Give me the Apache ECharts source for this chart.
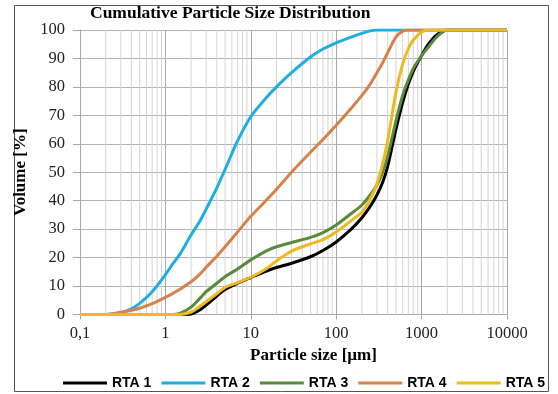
<!DOCTYPE html>
<html>
<head>
<meta charset="utf-8">
<script src="https://cdn.jsdelivr.net/npm/echarts@6/dist/echarts.min.js"></script>
<style>
  html, body { margin: 0; padding: 0; background: #fff; }
  #chart { width: 558px; height: 394px; }
</style>
</head>
<body>
<div id="chart"></div>
<script>
// particle sizes (µm) shared by every curve
const sizes = [0.1, 0.2, 0.3, 0.4, 0.5, 0.7, 1, 1.2, 1.5, 2, 2.5, 3, 4, 5, 7, 10, 15, 20, 30, 50, 70, 100,
  150, 200, 250, 300, 350, 400, 500, 600, 700, 800, 1000, 1200, 1500, 2000, 3000, 10000];

// cumulative volume (%)
const rta1 = [0, 0, 0, 0, 0, 0, 0, 0, 0, 0.2, 1.5, 3.3, 6.5, 8.8, 11, 13, 15.2, 16.5, 18, 20.3, 22.5, 25.5,
  30, 34, 38, 42, 46.5, 52, 65, 74.5, 81, 85.5, 91, 95, 98.3, 100, 100, 100];
const rta2 = [0, 0, 0.6, 2, 3.9, 8, 14, 17.5, 21.5, 28, 32.5, 37, 44.5, 51, 61, 69.5, 76, 80, 85, 90.5, 93.3, 95.5,
  97.5, 98.8, 99.7, 100, 100, 100, 100, 100, 100, 100, 100, 100, 100, 100, 100, 100];
const rta3 = [0, 0, 0, 0, 0, 0, 0, 0, 0.5, 2.6, 5.5, 8, 11, 13.3, 16, 19.2, 22.3, 23.8, 25.3, 27.1, 28.8, 31.5,
  35.5, 38.5, 42, 45.5, 50, 55.5, 68, 77, 82.5, 86.5, 91, 94, 97.5, 100, 100, 100];
const rta4 = [0, 0, 0.8, 1.5, 2.2, 3.8, 6, 7.3, 9, 11.5, 14, 16.6, 20.5, 23.8, 29, 34.5, 40, 44, 50, 57, 61.5, 66.5,
  72.5, 77, 81, 85, 88.5, 92, 97.5, 99.6, 100, 100, 100, 100, 100, 100, 100, 100];
const rta5 = [0, 0, 0, 0, 0, 0, 0, 0, 0, 0.8, 2.8, 4.5, 7.3, 9.5, 11.2, 13.1, 16, 18.8, 22.3, 24.8, 26.3, 29,
  33, 36, 40.5, 46, 53, 61, 78, 88, 93.5, 96.5, 99.3, 100, 100, 100, 100, 100];

const seriesNames = ['RTA 1', 'RTA 2', 'RTA 3', 'RTA 4', 'RTA 5'];
const seriesValues = [rta1, rta2, rta3, rta4, rta5];
const seriesColors = ['#000000', '#1EAEDF', '#5B8A3C', '#D7824C', '#EDBA22'];

// minor log gridlines: 2..9 of each decade
const minorGrid = [];
[0.1, 1, 10, 100, 1000].forEach((d) => {
  for (let k = 2; k <= 9; k++) minorGrid.push(+(d * k).toPrecision(3));
});
// vertical segments 0..100 at each minor value, broken by gaps
const minorData = [];
minorGrid.forEach((v) => {
  minorData.push([v, 0], [v, 100], [v, '-']);
});

const chart = echarts.init(document.getElementById('chart'));

const serif = '"Liberation Serif", "Times New Roman", serif';

chart.setOption({
  animation: false,
  title: {
    text: 'Cumulative Particle Size Distribution',
    left: 90,
    top: 4,
    padding: 0,
    textStyle: { fontFamily: serif, fontWeight: 'bold', fontSize: 17.5, color: '#000' },
  },
  legend: {
    top: 376,
    left: 63,
    width: 495,
    padding: 0,
    data: seriesNames,
    icon: 'rect',
    itemWidth: 44,
    itemHeight: 3,
    itemGap: 10,
    textStyle: { fontFamily: '"Liberation Sans", Arial, sans-serif', fontWeight: 'bold', fontSize: 14, color: '#000' },
  },
  grid: { left: 80, right: 51, top: 30, bottom: 79.5, containLabel: false },
  xAxis: {
    type: 'log',
    logBase: 10,
    min: 0.1,
    max: 10000,
    name: 'Particle size [µm]',
    nameLocation: 'middle',
    nameGap: 31,
    nameTextStyle: { fontFamily: serif, fontWeight: 'bold', fontSize: 17, color: '#000', padding: [0, 0, 0, 40] },
    axisLine: { lineStyle: { color: '#a8a8a8' } },
    axisTick: { show: true, length: 5, lineStyle: { color: '#a8a8a8' } },
    axisLabel: {
      fontFamily: serif, fontSize: 16.5, color: '#222', margin: 11,
      formatter: (v) => (v < 1 ? '0,1' : String(Math.round(v))),
    },
    splitLine: { show: true, lineStyle: { color: '#a8a8a8' } },
  },
  yAxis: {
    type: 'value',
    min: 0,
    max: 100,
    interval: 10,
    name: 'Volume [%]',
    nameLocation: 'middle',
    nameGap: 47,
    nameTextStyle: { fontFamily: serif, fontWeight: 'bold', fontSize: 17, color: '#000' },
    axisLine: { show: true, lineStyle: { color: '#a8a8a8' } },
    axisTick: { show: true, length: 7, lineStyle: { color: '#a8a8a8' } },
    axisLabel: { fontFamily: serif, fontSize: 16.5, color: '#222', margin: 15 },
    splitLine: { show: true, lineStyle: { color: '#b4b4b4' } },
  },
  graphic: [{
    type: 'rect',
    shape: { x: 14.5, y: 5.5, width: 534, height: 386 },
    style: { fill: 'none', stroke: '#555', lineWidth: 1 },
    silent: true,
  }],
  series: [
    {
      type: 'line',
      name: 'minor',
      data: minorData,
      z: 1,
      silent: true,
      showSymbol: false,
      connectNulls: false,
      lineStyle: { color: '#d4d4d4', width: 1 },
      emphasis: { disabled: true },
    },
  ].concat(seriesNames.map((name, i) => ({
    type: 'line',
    name: name,
    z: 3,
    smooth: 0.3,
    showSymbol: false,
    data: sizes.map((s, j) => [s, seriesValues[i][j]]),
    lineStyle: { color: seriesColors[i], width: 3 },
    itemStyle: { color: seriesColors[i] },
  }))),
});
</script>
</body>
</html>
